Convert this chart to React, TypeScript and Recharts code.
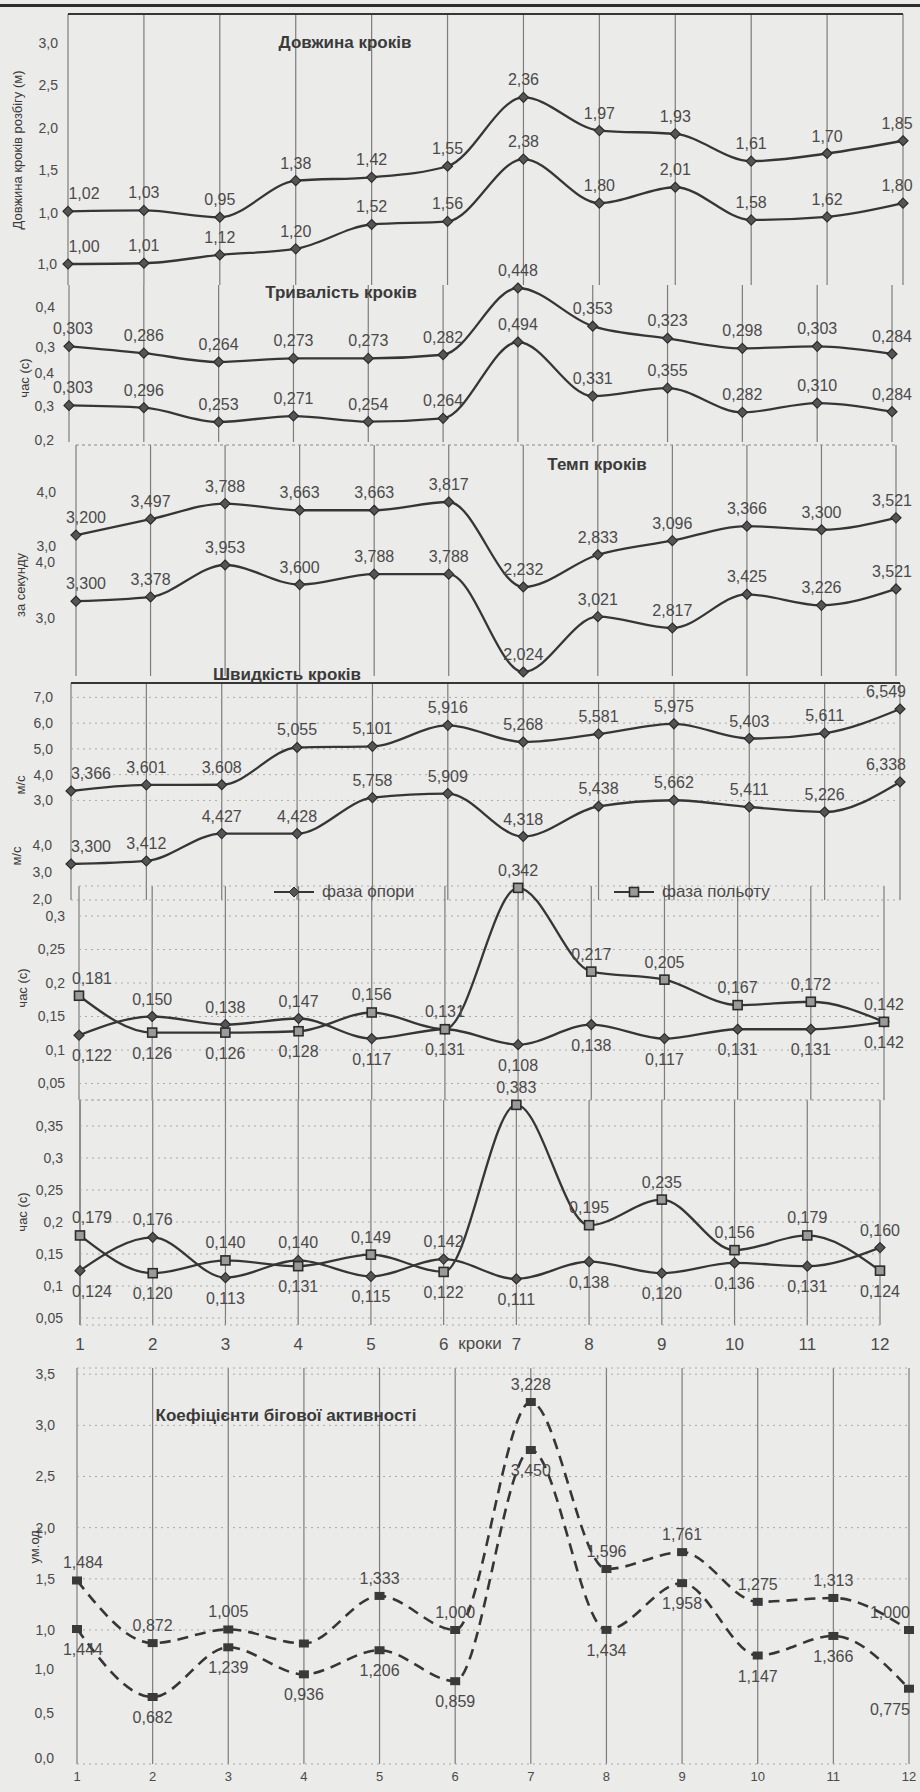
import React from 'react';
import { LineChart, Line, XAxis, YAxis, CartesianGrid, LabelList, ReferenceLine } from 'recharts';

const steps = ['1', '2', '3', '4', '5', '6', '7', '8', '9', '10', '11', '12'];

// Довжина кроків (м)
const lengthA = [1.02, 1.03, 0.95, 1.38, 1.42, 1.55, 2.36, 1.97, 1.93, 1.61, 1.7, 1.85];
const lengthB = [1.0, 1.01, 1.12, 1.2, 1.52, 1.56, 2.38, 1.8, 2.01, 1.58, 1.62, 1.8];
// Тривалість кроків (с)
const durationA = [0.303, 0.286, 0.264, 0.273, 0.273, 0.282, 0.448, 0.353, 0.323, 0.298, 0.303, 0.284];
const durationB = [0.303, 0.296, 0.253, 0.271, 0.254, 0.264, 0.494, 0.331, 0.355, 0.282, 0.31, 0.284];
// Темп кроків (за секунду)
const tempoA = [3.2, 3.497, 3.788, 3.663, 3.663, 3.817, 2.232, 2.833, 3.096, 3.366, 3.3, 3.521];
const tempoB = [3.3, 3.378, 3.953, 3.6, 3.788, 3.788, 2.024, 3.021, 2.817, 3.425, 3.226, 3.521];
// Швидкість кроків (м/с)
const speedA = [3.366, 3.601, 3.608, 5.055, 5.101, 5.916, 5.268, 5.581, 5.975, 5.403, 5.611, 6.549];
const speedB = [3.3, 3.412, 4.427, 4.428, 5.758, 5.909, 4.318, 5.438, 5.662, 5.411, 5.226, 6.338];
// фаза опори / фаза польоту (с)
const supportA = [0.122, 0.15, 0.138, 0.147, 0.117, 0.131, 0.108, 0.138, 0.117, 0.131, 0.131, 0.142];
const flightA = [0.181, 0.126, 0.126, 0.128, 0.156, 0.131, 0.342, 0.217, 0.205, 0.167, 0.172, 0.142];
const supportB = [0.124, 0.176, 0.113, 0.14, 0.115, 0.142, 0.111, 0.138, 0.12, 0.136, 0.131, 0.16];
const flightB = [0.179, 0.12, 0.14, 0.131, 0.149, 0.122, 0.383, 0.195, 0.235, 0.156, 0.179, 0.124];
// Коефіцієнти бігової активності (ум.од.)
const activityA = [1.484, 0.872, 1.005, 0.868, 1.333, 1.0, 3.228, 1.596, 1.761, 1.275, 1.313, 1.0];
const activityB = [1.444, 0.682, 1.239, 0.936, 1.206, 0.859, 3.45, 1.434, 1.958, 1.147, 1.366, 0.775];

const lengthTicksA = [1.0, 1.5, 2.0, 2.5, 3.0];
const lengthTicksB = [1.0];
const durationTicksA = [0.3, 0.4];
const durationTicksB = [0.2, 0.3, 0.4];
const tempoTicksA = [3.0, 4.0];
const tempoTicksB = [3.0, 4.0];
const speedTicksA = [3, 4, 5, 6, 7];
const speedTicksB = [2, 3, 4];
const phaseTicksA = [0.05, 0.1, 0.15, 0.2, 0.25, 0.3];
const phaseTicksB = [0.05, 0.1, 0.15, 0.2, 0.25, 0.3, 0.35];
const activityTicksA = [1.0, 1.5, 2.0, 2.5, 3.0, 3.5];
const activityTicksB = [0.0, 0.5, 1.0];

const phaseNames = ['фаза опори', 'фаза польоту'];

const rows = steps.map((step, i) => ({
  step,
  lengthA: lengthA[i],
  lengthB: lengthB[i],
  durationA: durationA[i],
  durationB: durationB[i],
  tempoA: tempoA[i],
  tempoB: tempoB[i],
  speedA: speedA[i],
  speedB: speedB[i],
  supportA: supportA[i],
  flightA: flightA[i],
  supportB: supportB[i],
  flightB: flightB[i],
  activityA: activityA[i],
  activityB: activityB[i],
}));

const W = 920;
const PAD = 34;
const INK = '#363636';
const TEXT = '#4a4a4a';
const FONT = '"Liberation Sans", Arial, sans-serif';
const LAST = steps.length - 1;

// value range that puts v0 at page y0 and v1 at page y1 inside a plot spanning top..bottom
function domainFor(v0: number, y0: number, v1: number, y1: number, top: number, bottom: number): [number, number] {
  const k = (v1 - v0) / (y1 - y0);
  return [v0 + (bottom - y0) * k, v0 + (top - y0) * k];
}

const fmtTick = (v: number) => (Number.isInteger(v) ? v.toFixed(1) : String(v)).replace('.', ',');
const fmtVal = (v: number, d: number) => v.toFixed(d).replace('.', ',');

type Place = 'above' | 'below';

function labelRenderer(
  digits: number,
  place: (i: number) => Place,
  hidden: number[] = [],
  firstDx = 0,
  lastDx = 0,
) {
  return (props: any) => {
    const vb = props.viewBox || {};
    const x = props.x ?? vb.x;
    const y = props.y ?? vb.y;
    const index = props.index;
    if (x == null || y == null || hidden.includes(index)) return null;
    const above = place(index) === 'above';
    const dx = index === 0 ? firstDx : index === LAST ? lastDx : 0;
    return (
      <text
        key={`lb-${index}`}
        x={x + dx}
        y={above ? y - 12 : y + 26}
        textAnchor="middle"
        fontSize={16}
        fontFamily={FONT}
        fill={TEXT}
      >
        {fmtVal(Number(props.value), digits)}
      </text>
    );
  };
}

function diamondDot(props: any) {
  const { cx, cy, index } = props;
  if (cx == null || cy == null) return <g key={`dm-${index}`} />;
  const r = 5;
  return (
    <polygon
      key={`dm-${index}`}
      points={`${cx},${cy - r} ${cx + r},${cy} ${cx},${cy + r} ${cx - r},${cy}`}
      fill="#555"
      stroke="#2c2c2c"
      strokeWidth={1.2}
    />
  );
}

function squareDot(props: any) {
  const { cx, cy, index } = props;
  if (cx == null || cy == null) return <g key={`sq-${index}`} />;
  return (
    <rect key={`sq-${index}`} x={cx - 4.5} y={cy - 4.5} width={9} height={9} fill="#9a9a9a" stroke="#2c2c2c" strokeWidth={1.6} />
  );
}

function blockDot(props: any) {
  const { cx, cy, index } = props;
  if (cx == null || cy == null) return <g key={`bk-${index}`} />;
  return <rect key={`bk-${index}`} x={cx - 5} y={cy - 4} width={10} height={8} fill="#3a3a3a" />;
}

type SeriesDef = {
  key: string;
  axis: string;
  dot: (p: any) => any;
  digits: number;
  place: (i: number) => Place;
  hidden?: number[];
  dashed?: boolean;
  name?: string;
};
type AxisDef = { id: string; domain: [number, number]; ticks: number[] };
type PanelDef = {
  plotTop: number;
  plotBottom: number;
  firstX: number;
  lastX: number;
  tickMargin: number;
  axes: AxisDef[];
  series: SeriesDef[];
  firstDx?: number;
  lastDx?: number;
  hGrid?: boolean;
  topLine?: 'solid' | 'dashed';
  xAxis?: { height: number; tickMargin: number; fontSize: number; label?: string };
};

const always = (p: Place) => () => p;

const p1 = { top: 14, bottom: 285 };
const p2 = { top: 285, bottom: 442 };
const p3 = { top: 445, bottom: 676 };
const p4 = { top: 683, bottom: 900 };
const p5 = { top: 886, bottom: 1100 };
const p6 = { top: 1100, bottom: 1325 };
const p7 = { top: 1368, bottom: 1764 };

const panels: PanelDef[] = [
  {
    plotTop: p1.top, plotBottom: p1.bottom, firstX: 68, lastX: 903, tickMargin: 10, topLine: 'solid',
    firstDx: 16, lastDx: -6,
    axes: [
      { id: 'a', domain: domainFor(1, 213, 2, 128, p1.top, p1.bottom), ticks: lengthTicksA },
      { id: 'b', domain: domainFor(1, 264, 2, 188, p1.top, p1.bottom), ticks: lengthTicksB },
    ],
    series: [
      { key: 'lengthA', axis: 'a', dot: diamondDot, digits: 2, place: always('above') },
      { key: 'lengthB', axis: 'b', dot: diamondDot, digits: 2, place: always('above') },
    ],
  },
  {
    plotTop: p2.top, plotBottom: p2.bottom, firstX: 69, lastX: 892, tickMargin: 14,
    firstDx: 4,
    axes: [
      { id: 'a', domain: domainFor(0.264, 362, 0.448, 288, p2.top, p2.bottom), ticks: durationTicksA },
      { id: 'b', domain: domainFor(0.253, 422, 0.494, 342, p2.top, p2.bottom), ticks: durationTicksB },
    ],
    series: [
      { key: 'durationA', axis: 'a', dot: diamondDot, digits: 3, place: always('above') },
      { key: 'durationB', axis: 'b', dot: diamondDot, digits: 3, place: always('above') },
    ],
  },
  {
    plotTop: p3.top, plotBottom: p3.bottom, firstX: 76, lastX: 896, tickMargin: 20, topLine: 'dashed',
    firstDx: 10, lastDx: -4,
    axes: [
      { id: 'a', domain: domainFor(2.232, 587, 3.817, 502, p3.top, p3.bottom), ticks: tempoTicksA },
      { id: 'b', domain: domainFor(2.024, 672, 3.953, 565, p3.top, p3.bottom), ticks: tempoTicksB },
    ],
    series: [
      { key: 'tempoA', axis: 'a', dot: diamondDot, digits: 3, place: always('above') },
      { key: 'tempoB', axis: 'b', dot: diamondDot, digits: 3, place: always('above') },
    ],
  },
  {
    plotTop: p4.top, plotBottom: p4.bottom, firstX: 71, lastX: 900, tickMargin: 18, topLine: 'solid', hGrid: true,
    firstDx: 20, lastDx: -14,
    axes: [
      { id: 'a', domain: domainFor(3.366, 791, 6.549, 709, p4.top, p4.bottom), ticks: speedTicksA },
      { id: 'b', domain: domainFor(3.3, 864, 6.338, 782, p4.top, p4.bottom), ticks: speedTicksB },
    ],
    series: [
      { key: 'speedA', axis: 'a', dot: diamondDot, digits: 3, place: always('above') },
      { key: 'speedB', axis: 'b', dot: diamondDot, digits: 3, place: always('above') },
    ],
  },
  {
    plotTop: p5.top, plotBottom: p5.bottom, firstX: 79, lastX: 884, tickMargin: 14, hGrid: true,
    firstDx: 13,
    axes: [{ id: 'a', domain: domainFor(0.1, 1050, 0.3, 916, p5.top, p5.bottom), ticks: phaseTicksA }],
    series: [
      { key: 'supportA', name: phaseNames[0], axis: 'a', dot: diamondDot, digits: 3, place: (i) => (supportA[i] > flightA[i] ? 'above' : 'below') },
      { key: 'flightA', name: phaseNames[1], axis: 'a', dot: squareDot, digits: 3, place: (i) => (flightA[i] >= supportA[i] ? 'above' : 'below') },
    ],
  },
  {
    plotTop: p6.top, plotBottom: p6.bottom, firstX: 80, lastX: 880, tickMargin: 17, hGrid: true,
    firstDx: 12,
    xAxis: { height: 36, tickMargin: 13, fontSize: 17, label: 'кроки' },
    axes: [{ id: 'a', domain: domainFor(0.1, 1286, 0.35, 1126, p6.top, p6.bottom), ticks: phaseTicksB }],
    series: [
      { key: 'supportB', name: phaseNames[0], axis: 'a', dot: diamondDot, digits: 3, place: (i) => (supportB[i] > flightB[i] ? 'above' : 'below') },
      { key: 'flightB', name: phaseNames[1], axis: 'a', dot: squareDot, digits: 3, place: (i) => (flightB[i] >= supportB[i] ? 'above' : 'below') },
    ],
  },
  {
    plotTop: p7.top, plotBottom: p7.bottom, firstX: 77, lastX: 909, tickMargin: 22, hGrid: true,
    firstDx: 6, lastDx: -19,
    xAxis: { height: 24, tickMargin: 8, fontSize: 13 },
    axes: [
      { id: 'a', domain: domainFor(1.0, 1630, 3.228, 1402, p7.top, p7.bottom), ticks: activityTicksA },
      { id: 'b', domain: domainFor(0.682, 1697, 3.45, 1450, p7.top, p7.bottom), ticks: activityTicksB },
    ],
    series: [
      { key: 'activityA', axis: 'a', dot: blockDot, digits: 3, place: always('above'), hidden: [3], dashed: true },
      { key: 'activityB', axis: 'b', dot: blockDot, digits: 3, place: always('below'), dashed: true },
    ],
  },
];

const AXIS_W = 1;

function Panel({ cfg }: { cfg: PanelDef }) {
  const xh = cfg.xAxis ? cfg.xAxis.height : 0;
  const height = cfg.plotBottom - cfg.plotTop + 2 * PAD + xh;
  const left = cfg.firstX - AXIS_W * cfg.axes.length;
  return (
    <div style={{ position: 'absolute', left: 0, top: cfg.plotTop - PAD }}>
      <LineChart
        width={W}
        height={height}
        data={rows}
        margin={{ top: PAD, right: W - cfg.lastX, bottom: PAD, left }}
      >
        <CartesianGrid yAxisId="a" horizontal={false} stroke="#7c7c7c" strokeWidth={1.2} />
        {cfg.hGrid && (
          <CartesianGrid yAxisId="a" vertical={false} stroke="#a9a9a9" strokeWidth={1} strokeDasharray="2 4" />
        )}
        {cfg.xAxis ? (
          <XAxis
            dataKey="step"
            height={cfg.xAxis.height}
            axisLine={false}
            tickLine={false}
            tickSize={0}
            tickMargin={cfg.xAxis.tickMargin}
            interval={0}
            tick={{ fontSize: cfg.xAxis.fontSize, fill: TEXT, fontFamily: FONT }}
            label={
              cfg.xAxis.label
                ? { value: cfg.xAxis.label, position: 'center', fontSize: cfg.xAxis.fontSize, fill: TEXT, fontFamily: FONT }
                : undefined
            }
          />
        ) : (
          <XAxis dataKey="step" hide />
        )}
        {cfg.axes.map((ax) => (
          <YAxis
            key={ax.id}
            yAxisId={ax.id}
            type="number"
            domain={ax.domain}
            ticks={ax.ticks}
            interval={0}
            width={AXIS_W}
            tickSize={0}
            tickMargin={cfg.tickMargin}
            axisLine={false}
            tickLine={false}
            tickFormatter={fmtTick}
            tick={{ fontSize: 14, fill: TEXT, fontFamily: FONT }}
          />
        ))}
        {cfg.topLine && (
          <ReferenceLine
            yAxisId="a"
            y={cfg.axes[0].domain[1]}
            ifOverflow="visible"
            stroke={cfg.topLine === 'solid' ? INK : '#8a8a8a'}
            strokeWidth={cfg.topLine === 'solid' ? 1.8 : 1.2}
            strokeDasharray={cfg.topLine === 'solid' ? undefined : '3 3'}
          />
        )}
        {cfg.series.map((s) => (
          <Line
            key={s.key}
            yAxisId={s.axis}
            dataKey={s.key}
            name={s.name}
            type="monotone"
            stroke={INK}
            strokeWidth={s.dashed ? 2.6 : 2.3}
            strokeDasharray={s.dashed ? '11 7' : undefined}
            dot={s.dot}
            activeDot={false}
            isAnimationActive={false}
          >
            <LabelList
              dataKey={s.key}
              content={labelRenderer(s.digits, s.place, s.hidden, cfg.firstDx, cfg.lastDx)}
            />
          </Line>
        ))}
      </LineChart>
    </div>
  );
}

const panelTitles = [
  { text: 'Довжина кроків', x: 345, y: 43 },
  { text: 'Тривалість кроків', x: 341, y: 293 },
  { text: 'Темп кроків', x: 597, y: 465 },
  { text: 'Швидкість кроків', x: 287, y: 675 },
  { text: 'Коефіцієнти бігової активності', x: 286, y: 1416 },
];

const axisTitles = [
  { text: 'Довжина кроків розбігу (м)', x: 17, y: 150 },
  { text: 'час (с)', x: 24, y: 378 },
  { text: 'за секунду', x: 20, y: 585 },
  { text: 'м/с', x: 20, y: 785 },
  { text: 'м/с', x: 16, y: 856 },
  { text: 'час (с)', x: 22, y: 988 },
  { text: 'час (с)', x: 22, y: 1212 },
  { text: 'ум.од.', x: 34, y: 1545 },
];

const legendX = [272, 612];

export default function App() {
  return (
    <div
      style={{
        position: 'absolute',
        left: 0,
        top: 0,
        width: W,
        height: 1792,
        overflow: 'hidden',
        background: '#ebebe9',
        fontFamily: FONT,
        color: TEXT,
      }}
    >
      <div style={{ position: 'absolute', left: 0, top: 4, width: W, height: 3, background: '#2e2e2e' }} />
      {panels.map((cfg, i) => (
        <Panel key={i} cfg={cfg} />
      ))}
      {panelTitles.map((t) => (
        <div
          key={t.text}
          style={{
            position: 'absolute',
            left: t.x,
            top: t.y,
            transform: 'translate(-50%, -50%)',
            whiteSpace: 'nowrap',
            fontWeight: 'bold',
            fontSize: 17,
            color: '#3a3a3a',
          }}
        >
          {t.text}
        </div>
      ))}
      {axisTitles.map((t, i) => (
        <div
          key={i}
          style={{
            position: 'absolute',
            left: t.x,
            top: t.y,
            transform: 'translate(-50%, -50%) rotate(-90deg)',
            whiteSpace: 'nowrap',
            fontSize: 13,
            color: '#3a3a3a',
          }}
        >
          {t.text}
        </div>
      ))}
      {phaseNames.map((name, i) => (
        <div
          key={name}
          style={{ position: 'absolute', left: legendX[i], top: 882, display: 'flex', alignItems: 'center', gap: 6 }}
        >
          <svg width={44} height={14}>
            <line x1={2} y1={7} x2={42} y2={7} stroke={INK} strokeWidth={2} />
            {i === 0 ? (
              <polygon points="22,2 27,7 22,12 17,7" fill="#555" stroke="#2c2c2c" />
            ) : (
              <rect x={17.5} y={2.5} width={9} height={9} fill="#9a9a9a" stroke="#2c2c2c" strokeWidth={1.6} />
            )}
          </svg>
          <span style={{ fontSize: 17, color: TEXT }}>{name}</span>
        </div>
      ))}
    </div>
  );
}
